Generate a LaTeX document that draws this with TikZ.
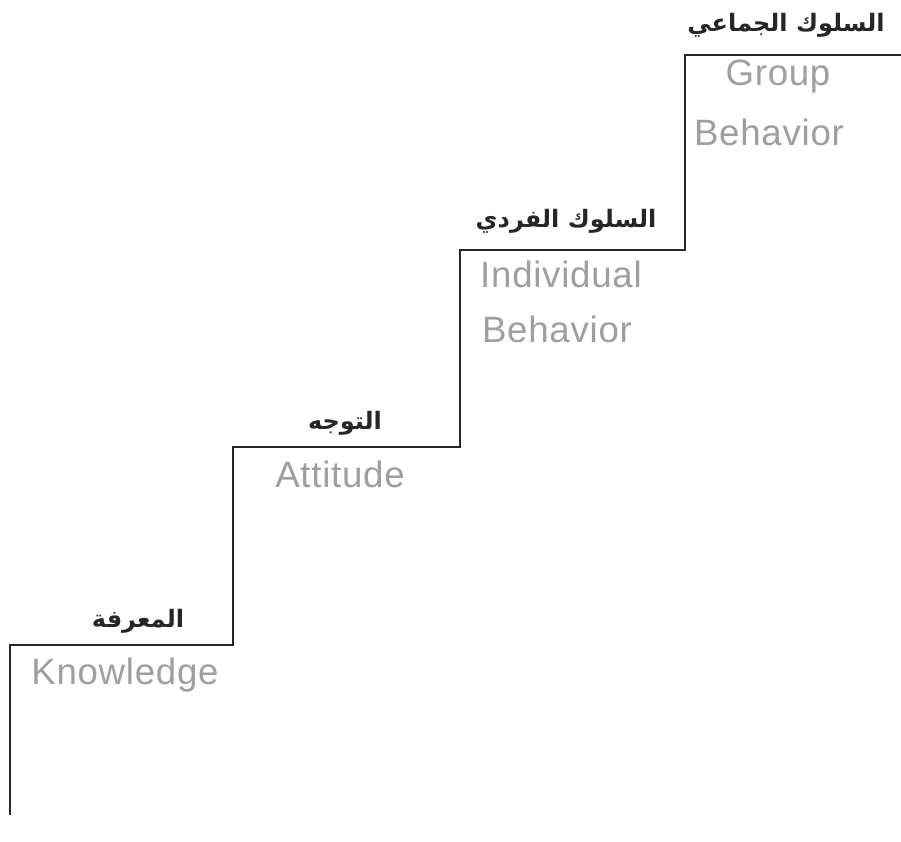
\documentclass[tikz,border=0pt]{standalone}
\usepackage{fontspec}
\setmainfont{Liberation Sans}[LetterSpace=2]
\newfontfamily\arabicfont[Script=Arabic]{DejaVu Sans}
\TeXXeTstate=1
\begin{document}
\begin{tikzpicture}[x=0.75pt,y=-0.75pt,
  eng/.style={text=gray!75, font=\fontsize{27.5}{30}\selectfont, inner sep=0pt},
  arab/.style={text=black!85, font=\arabicfont\bfseries\fontsize{18}{21}\selectfont, inner sep=0pt},
  stair/.style={draw=black!85, line width=2pt, line join=miter}]
\fill[white] (0,0) rectangle (901,842);
\useasboundingbox (0,0) rectangle (901,842);
\coordinate (s0) at (10,815);
\coordinate (s1) at (10,645);
\coordinate (s2) at (233,645);
\coordinate (s3) at (233,447);
\coordinate (s4) at (460,447);
\coordinate (s5) at (460,250);
\coordinate (s6) at (685,250);
\coordinate (s7) at (685,55);
\coordinate (s8) at (901,55);
\draw[stair] (s0) -- (s1) -- (s2) -- (s3) -- (s4) -- (s5) -- (s6) -- (s7) -- (s8);
\node[arab] (a1) at (138,621) {\beginR المعرفة\endR};
\node[arab] (a2) at (345,423) {\beginR التوجه\endR};
\node[arab] (a3) at (566,221) {\beginR السلوك الفردي\endR};
\node[arab] (a4) at (786,25) {\beginR السلوك الجماعي\endR};
\node[eng] (e1) at (125,675) {Knowledge};
\node[eng] (e2) at (340,474) {Attitude};
\node[eng] (e3) at (561,274) {Individual};
\node[eng] (e4) at (557,329) {Behavior};
\node[eng] (e5) at (778,77) {Group};
\node[eng] (e6) at (769,132) {Behavior};
\end{tikzpicture}
\end{document}
